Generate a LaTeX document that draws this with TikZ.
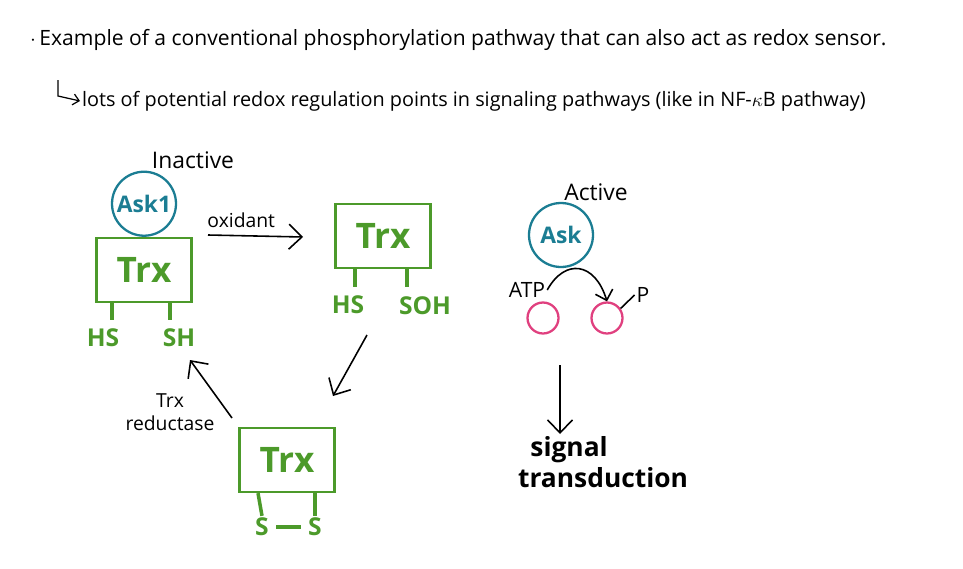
\documentclass[tikz,border=0pt]{standalone}
\usepackage{fontspec}
\setmainfont{Open Sans}
\usepackage{tikz}
\usetikzlibrary{arrows.meta,positioning}

\definecolor{trxgreen}{HTML}{4C9A2A}
\definecolor{askteal}{HTML}{1B7D93}
\definecolor{subpink}{HTML}{E0407F}

\begin{document}
\begin{tikzpicture}[x=0.02cm,y=-0.02cm,
    trxbox/.style={draw=trxgreen,line width=1.3pt,minimum width=1.9cm,minimum height=1.28cm,text=trxgreen,font=\fontsize{20}{22}\selectfont\bfseries},
    kinase/.style={circle,draw=askteal,line width=1.3pt,minimum size=1.28cm,inner sep=0pt,text=askteal,font=\fontsize{13}{15}\selectfont\bfseries},
    substrate/.style={circle,draw=subpink,line width=1.3pt,minimum size=0.62cm,inner sep=0pt},
    thiol/.style={text=trxgreen,font=\fontsize{14}{16}\selectfont\bfseries,inner sep=1pt},
    leg/.style={trxgreen,line width=2pt},
    flow/.style={-{Straight Barb[length=2.6mm,width=5mm]},line width=0.9pt},
    note/.style={font=\fontsize{11}{13}\selectfont,align=center,inner sep=1pt}
]
\useasboundingbox (0,0) rectangle (963,568);

% header text
\node[note,anchor=west,font=\fontsize{12}{14}\selectfont] (headline) at (28,40) {$\cdot$\,Example of a conventional phosphorylation pathway that can also act as redox sensor.};
\node[note,anchor=west,font=\fontsize{11.3}{13}\selectfont] (subline) at (80,101) {lots of potential redox regulation points in signaling pathways (like in NF-$\kappa$B pathway)};
\coordinate (hook) at (58,80);
\draw[-{Straight Barb[length=1.2mm,width=2.2mm]},line width=0.7pt] (hook) -- ++(0,16) -- (subline.west);

% inactive complex
\node[trxbox] (trxA) at (144,270) {Trx};
\node[kinase,above=0pt of trxA] (askA) {Ask1};
\node[note,font=\fontsize{13}{15}\selectfont] (inactive) at (193,160) {Inactive};
\node[thiol] (hsA) at (103,338) {HS};
\node[thiol] (shA) at (179,338) {SH};
\draw[leg] (trxA.south -| 112,0) -- (112,320);
\draw[leg] (trxA.south -| 170,0) -- (170,320);

% oxidized Trx
\node[trxbox] (trxB) at (383,236) {Trx};
\node[thiol] (hsB) at (348,305) {HS};
\node[thiol] (sohB) at (425,306) {SOH};
\draw[leg] (trxB.south -| 355,0) -- (355,287);
\draw[leg] (trxB.south -| 407,0) -- (407,287);

% disulfide Trx
\node[trxbox] (trxC) at (287,460) {Trx};
\node[thiol] (sC1) at (262,527) {S};
\node[thiol] (sC2) at (315,527) {S};
\draw[leg] (trxC.south -| 258,0) -- (sC1.north);
\draw[leg] (trxC.south -| 315,0) -- (sC2.north);
\draw[leg,shorten <=3pt,shorten >=3pt] (sC1.east) -- (sC2.west);

% redox cycle
\coordinate (oxStart) at (208,235);
\coordinate (oxEnd) at (303,237);
\draw[flow] (oxStart) -- node[note,pos=0.35,above=3pt]{oxidant} (oxEnd);
\coordinate (dnStart) at (367,335);
\coordinate (dnEnd) at (333,396);
\draw[flow] (dnStart) -- (dnEnd);
\coordinate (upStart) at (232,418);
\coordinate (upEnd) at (190,360);
\draw[flow] (upStart) -- (upEnd);
\node[note] (reductase) at (170,412) {Trx\\reductase};

% active kinase
\node[kinase] (askB) at (561,235) {Ask};
\node[note,font=\fontsize{13}{15}\selectfont] (active) at (596,192) {Active};
\node[substrate] (subA) at (543,318) {};
\node[substrate] (subB) at (607,318) {};
\node[note,font=\fontsize{12}{14}\selectfont] (atp) at (527,290) {ATP};
\node[note,font=\fontsize{12}{14}\selectfont] (phos) at (643,295) {P};
\draw[-{Straight Barb[length=1.8mm,width=3.6mm]},line width=0.9pt] (atp.east) .. controls (565,258) and (595,262) .. (subB.north);
\draw[line width=0.9pt] (subB.35) -- (phos.west);

% downstream
\coordinate (sigStart) at (560,365);
\node[font=\fontsize{15}{17}\selectfont\bfseries,align=left,anchor=north west,inner sep=1pt] (signal) at (516,434) {\hspace*{7pt}signal\\[1pt]transduction};
\draw[flow] (sigStart) -- (sigStart |- signal.north);
\end{tikzpicture}
\end{document}
